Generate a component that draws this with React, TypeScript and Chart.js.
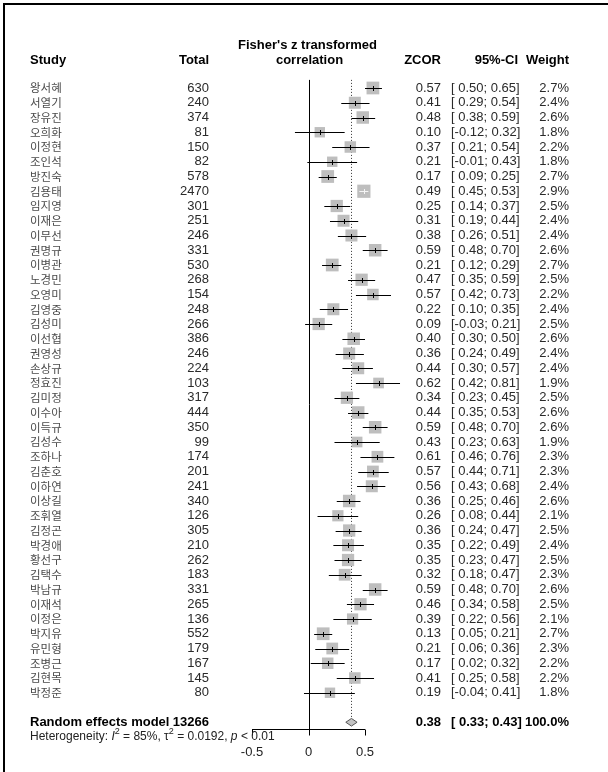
import React, { useEffect, useRef } from "react";
import { Chart, registerables } from "chart.js";

Chart.register(...registerables);

const studies = [
  "왕서혜", "서열기", "장유진", "오희화", "이정현", "조인석", "방진숙", "김용태",
  "임지영", "이재은", "이무선", "권명규", "이병관", "노경민", "오영미", "김영중",
  "김성미", "이선협", "권영성", "손상규", "정효진", "김미정", "이수아", "이득규",
  "김성수", "조하나", "김춘호", "이하연", "이상길", "조휘열", "김정곤", "박경애",
  "황선구", "김택수", "박남규", "이재석", "이정은", "박지유", "유민형", "조병근",
  "김현목", "박정준",
];
const totals = [
  630, 240, 374, 81, 150, 82, 578, 2470, 301, 251, 246, 331, 530, 268, 154, 248,
  266, 386, 246, 224, 103, 317, 444, 350, 99, 174, 201, 241, 340, 126, 305, 210,
  262, 183, 331, 265, 136, 552, 179, 167, 145, 80,
];
const zcor = [
  0.57, 0.41, 0.48, 0.10, 0.37, 0.21, 0.17, 0.49, 0.25, 0.31, 0.38, 0.59, 0.21, 0.47,
  0.57, 0.22, 0.09, 0.40, 0.36, 0.44, 0.62, 0.34, 0.44, 0.59, 0.43, 0.61, 0.57, 0.56,
  0.36, 0.26, 0.36, 0.35, 0.35, 0.32, 0.59, 0.46, 0.39, 0.13, 0.21, 0.17, 0.41, 0.19,
];
const ciLow = [
  0.50, 0.29, 0.38, -0.12, 0.21, -0.01, 0.09, 0.45, 0.14, 0.19, 0.26, 0.48, 0.12, 0.35,
  0.42, 0.10, -0.03, 0.30, 0.24, 0.30, 0.42, 0.23, 0.35, 0.48, 0.23, 0.46, 0.44, 0.43,
  0.25, 0.08, 0.24, 0.22, 0.23, 0.18, 0.48, 0.34, 0.22, 0.05, 0.06, 0.02, 0.25, -0.04,
];
const ciHigh = [
  0.65, 0.54, 0.59, 0.32, 0.54, 0.43, 0.25, 0.53, 0.37, 0.44, 0.51, 0.70, 0.29, 0.59,
  0.73, 0.35, 0.21, 0.50, 0.49, 0.57, 0.81, 0.45, 0.53, 0.70, 0.63, 0.76, 0.71, 0.68,
  0.46, 0.44, 0.47, 0.49, 0.47, 0.47, 0.70, 0.58, 0.56, 0.21, 0.36, 0.32, 0.58, 0.41,
];
const weights = [
  2.7, 2.4, 2.6, 1.8, 2.2, 1.8, 2.7, 2.9, 2.5, 2.4, 2.4, 2.6, 2.7, 2.5, 2.2, 2.4,
  2.5, 2.6, 2.4, 2.4, 1.9, 2.5, 2.6, 2.6, 1.9, 2.3, 2.3, 2.4, 2.6, 2.1, 2.5, 2.4,
  2.5, 2.3, 2.6, 2.5, 2.1, 2.7, 2.3, 2.2, 2.2, 1.8,
];
const pooledTotal = 13266;
const pooledEst = 0.38;
const pooledLow = 0.33;
const pooledHigh = 0.43;
const pooledWeight = 100.0;
const hetI2 = "85%";
const hetTau2 = "0.0192";
const hetP = "0.01";
const axisTicks = [-0.5, 0, 0.5];
const axisLabels = ["-0.5", "0", "0.5"];

const W = 608;
const H = 772;
const FONT = '"Liberation Sans", Arial, "Noto Sans CJK KR", sans-serif';
const KFONT = '"Noto Sans CJK KR", "Liberation Sans", sans-serif';

const fmt = (v: number) => v.toFixed(2);
const fmtCI = (lo: number, hi: number) =>
  "[" + (lo < 0 ? fmt(lo) : " " + fmt(lo)) + "; " + fmt(hi) + "]";

export default function App() {
  const ref = useRef<HTMLCanvasElement>(null);

  useEffect(() => {
    const canvas = ref.current!;
    const maxSide = 13.2;
    const radii = weights.map(
      (w) => (maxSide * Math.sqrt(w / Math.max(...weights))) / Math.SQRT2
    );

    // layout (pixel columns)
    const colName = 30;
    const colTotal = 209;
    const colZ = 441;
    const colCI = 451;
    const colW = 569;
    const yFisher = 45;
    const yHeader = 60;
    const rowSummary = studies.length + 1;
    const rowHet = studies.length + 1.98;
    const rowAxis = studies.length + 1.46;
    const rowAxisLabel = studies.length + 3.02;

    const forest = {
      id: "forest",
      beforeDatasetsDraw(chart: any) {
        const ctx = chart.ctx as CanvasRenderingContext2D;
        const xs = chart.scales.x;
        const ys = chart.scales.y;
        ctx.save();
        // frame
        ctx.strokeStyle = "#000";
        ctx.lineWidth = 2;
        ctx.beginPath();
        ctx.moveTo(4, H);
        ctx.lineTo(4, 4);
        ctx.lineTo(W, 4);
        ctx.stroke();

        const yTop = ys.getPixelForValue(-0.55);
        const yAxis = Math.round(ys.getPixelForValue(rowAxis)) + 0.5;
        // zero line
        const x0 = Math.round(xs.getPixelForValue(0)) + 0.5;
        ctx.lineWidth = 1;
        ctx.strokeStyle = "#000";
        ctx.beginPath();
        ctx.moveTo(x0, yTop);
        ctx.lineTo(x0, yAxis);
        ctx.stroke();
        // pooled dotted line
        const xp = Math.round(xs.getPixelForValue(pooledEst)) + 0.5;
        ctx.setLineDash([1, 2]);
        ctx.strokeStyle = "#333";
        ctx.beginPath();
        ctx.moveTo(xp, yTop);
        ctx.lineTo(xp, ys.getPixelForValue(rowSummary) - 4);
        ctx.stroke();
        ctx.setLineDash([]);
        ctx.restore();
      },
      afterDatasetsDraw(chart: any) {
        const ctx = chart.ctx as CanvasRenderingContext2D;
        const xs = chart.scales.x;
        const ys = chart.scales.y;
        ctx.save();
        // CI lines and inner ticks
        for (let i = 0; i < studies.length; i++) {
          const y = Math.round(ys.getPixelForValue(i)) + 0.5;
          const xl = xs.getPixelForValue(ciLow[i]);
          const xh = xs.getPixelForValue(ciHigh[i]);
          const xc = xs.getPixelForValue(zcor[i]);
          const half = radii[i] * Math.SQRT1_2;
          const inside = xc - xl < half && xh - xc < half;
          ctx.strokeStyle = inside ? "#f4f4f4" : "#000";
          ctx.lineWidth = 1;
          ctx.beginPath();
          ctx.moveTo(xl, y);
          ctx.lineTo(xh, y);
          ctx.moveTo(Math.round(xc) + 0.5, y - 2.5);
          ctx.lineTo(Math.round(xc) + 0.5, y + 2.5);
          ctx.stroke();
        }
        // diamond
        const yd = ys.getPixelForValue(rowSummary);
        ctx.beginPath();
        ctx.moveTo(xs.getPixelForValue(pooledLow), yd);
        ctx.lineTo(xs.getPixelForValue(pooledEst), yd - 3.8);
        ctx.lineTo(xs.getPixelForValue(pooledHigh), yd);
        ctx.lineTo(xs.getPixelForValue(pooledEst), yd + 3.8);
        ctx.closePath();
        ctx.fillStyle = "#c4c4c4";
        ctx.fill();
        ctx.strokeStyle = "#555";
        ctx.lineWidth = 1;
        ctx.stroke();

        // axis
        const yAxis = Math.round(ys.getPixelForValue(rowAxis)) + 0.5;
        ctx.strokeStyle = "#000";
        ctx.beginPath();
        ctx.moveTo(xs.getPixelForValue(axisTicks[0]), yAxis);
        ctx.lineTo(xs.getPixelForValue(axisTicks[axisTicks.length - 1]), yAxis);
        for (const t of axisTicks) {
          const xt = Math.round(xs.getPixelForValue(t)) + 0.5;
          ctx.moveTo(xt, yAxis);
          ctx.lineTo(xt, yAxis + 6);
        }
        ctx.stroke();
        ctx.fillStyle = "#222";
        ctx.font = `13px ${FONT}`;
        ctx.textAlign = "center";
        ctx.textBaseline = "middle";
        const yLab = ys.getPixelForValue(rowAxisLabel);
        axisTicks.forEach((t, k) => {
          ctx.fillText(axisLabels[k], xs.getPixelForValue(t), yLab);
        });

        // headers
        ctx.fillStyle = "#000";
        ctx.font = `bold 13px ${FONT}`;
        ctx.textAlign = "center";
        const xHead = xs.getPixelForValue(0) - 1;
        ctx.fillText("Fisher's z transformed", xHead, yFisher);
        ctx.fillText("correlation", xHead + 2, yHeader);
        ctx.textAlign = "left";
        ctx.fillText("Study", colName, yHeader);
        ctx.textAlign = "right";
        ctx.fillText("Total", colTotal, yHeader);
        ctx.fillText("ZCOR", colZ, yHeader);
        ctx.fillText("95%-CI", 518, yHeader);
        ctx.fillText("Weight", colW, yHeader);

        // rows
        for (let i = 0; i < studies.length; i++) {
          const y = ys.getPixelForValue(i);
          ctx.fillStyle = "#4a4a4a";
          ctx.textAlign = "left";
          ctx.font = `11.5px ${KFONT}`;
          ctx.fillText(studies[i], colName, y);
          ctx.font = `13px ${FONT}`;
          ctx.fillStyle = "#2a2a2a";
          ctx.textAlign = "right";
          ctx.fillText(String(totals[i]), colTotal, y);
          ctx.fillText(fmt(zcor[i]), colZ, y);
          ctx.fillText(weights[i].toFixed(1) + "%", colW, y);
          ctx.textAlign = "left";
          ctx.fillText(fmtCI(ciLow[i], ciHigh[i]), colCI, y);
        }

        // summary row
        const ys2 = ys.getPixelForValue(rowSummary);
        ctx.fillStyle = "#000";
        ctx.font = `bold 13px ${FONT}`;
        ctx.textAlign = "left";
        ctx.fillText("Random effects model", colName, ys2);
        ctx.fillText(fmtCI(pooledLow, pooledHigh), colCI, ys2);
        ctx.textAlign = "right";
        ctx.fillText(String(pooledTotal), colTotal, ys2);
        ctx.fillText(fmt(pooledEst), colZ, ys2);
        ctx.fillText(pooledWeight.toFixed(1) + "%", colW, ys2);

        // heterogeneity
        const yh = ys.getPixelForValue(rowHet);
        ctx.textAlign = "left";
        ctx.fillStyle = "#222";
        let x = colName;
        const part = (s: string, style: string, dy = 0) => {
          ctx.font = style;
          ctx.fillText(s, x, yh + dy);
          x += ctx.measureText(s).width;
        };
        const n = `12px ${FONT}`;
        const it = `italic 12px ${FONT}`;
        const sup = `9px ${FONT}`;
        part("Heterogeneity: ", n);
        part("I", it);
        part("2", sup, -5);
        part(" = " + hetI2 + ", τ", n);
        part("2", sup, -5);
        part(" = " + hetTau2 + ", ", n);
        part("p", it);
        part(" < " + hetP, n);
        ctx.restore();
      },
    };

    const chart = new Chart(canvas, {
      type: "scatter",
      data: {
        datasets: [
          {
            data: zcor.map((z, i) => ({ x: z, y: i })),
            pointStyle: "rect",
            pointRadius: radii,
            pointBackgroundColor: "#bebebe",
            pointBorderWidth: 0,
            pointBorderColor: "rgba(0,0,0,0)",
            clip: false,
          },
        ],
      },
      options: {
        animation: false,
        responsive: false,
        maintainAspectRatio: false,
        events: [],
        layout: { padding: 0, autoPadding: false },
        plugins: { legend: { display: false }, tooltip: { enabled: false } },
        scales: {
          x: {
            type: "linear",
            display: false,
            min: -308.5 / 113,
            max: (W - 308.5) / 113,
          },
          y: {
            type: "linear",
            display: false,
            reverse: true,
            min: -88 / 14.75,
            max: (H - 88) / 14.75,
          },
        },
      },
      plugins: [forest],
    });
    return () => chart.destroy();
  }, []);

  return (
    <div
      style={{
        position: "absolute",
        left: 0,
        top: 0,
        width: W,
        height: H,
        background: "#fff",
      }}
    >
      <canvas
        ref={ref}
        width={W}
        height={H}
        style={{ width: W, height: H, display: "block" }}
      />
    </div>
  );
}
